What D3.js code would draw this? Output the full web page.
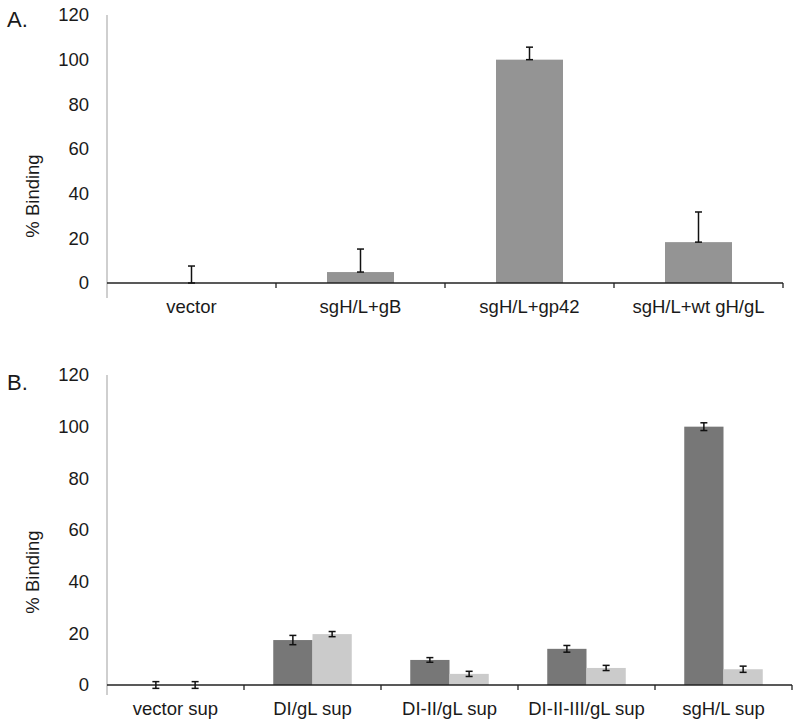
<!DOCTYPE html>
<html><head><meta charset="utf-8">
<script src="https://cdn.jsdelivr.net/npm/d3@7/dist/d3.min.js"></script>
<style>body{margin:0;background:#fff}svg{display:block}text{font-family:"Liberation Sans",Arial,sans-serif;fill:#1a1a1a}</style>
</head><body><svg id="c" width="800" height="728"></svg>
<script>
// Panel A data
const catsA = ["vector", "sgH/L+gB", "sgH/L+gp42", "sgH/L+wt gH/gL"];
const valsA = [0, 4.9, 100, 18.3];
const errA  = [7.6, 10.3, 5.6, 13.5];
// Panel B data
const catsB = ["vector sup", "DI/gL sup", "DI-II/gL sup", "DI-II-III/gL sup", "sgH/L sup"];
const seriesB = ["s1", "s2"];
const valsB1 = [0, 17.4, 9.7, 14.0, 100];
const errB1  = [1.3, 1.8, 0.9, 1.3, 1.5];
const valsB2 = [0, 19.7, 4.3, 6.6, 6.1];
const errB2  = [1.3, 1.0, 1.0, 1.0, 1.2];
const yTicks = [0, 20, 40, 60, 80, 100, 120];

const svg = d3.select("#c");

function panel(opt) {
  const g = svg.append("g");
  const x = d3.scaleBand().domain(opt.cats).range(opt.xr).padding(0);
  const y = d3.scaleLinear().domain([0, 120]).range(opt.yr);
  const inner = d3.scaleBand().domain(opt.series).range([0, x.bandwidth()]).paddingInner(0).paddingOuter(opt.po);

  // y axis line (gray, extends below x axis)
  g.append("line").attr("x1", opt.xr[0]).attr("x2", opt.xr[0])
    .attr("y1", y(120)).attr("y2", y(0) + opt.ext).attr("stroke", "#b5b5b5").attr("stroke-width", 1.3);
  // y tick labels
  g.selectAll(".yt").data(yTicks).join("text")
    .attr("x", opt.xr[0] - 18).attr("y", d => y(d)).attr("dy", "0.35em")
    .attr("text-anchor", "end").attr("font-size", 18.5).text(d => d);

  // bars
  opt.series.forEach((s, si) => {
    const vals = opt.vals[si], errs = opt.errs[si];
    g.selectAll(".b" + si).data(opt.cats).join("rect")
      .attr("x", (c) => x(c) + inner(s)).attr("width", inner.bandwidth())
      .attr("y", (c, i) => y(vals[i])).attr("height", (c, i) => y(0) - y(vals[i]))
      .attr("fill", opt.colors[si]);
  });

  // x axis
  g.append("line").attr("x1", opt.xr[0]).attr("x2", opt.xr[1]).attr("y1", y(0)).attr("y2", y(0))
    .attr("stroke", "#222").attr("stroke-width", 1.3);
  const bounds = opt.cats.map(c => x(c)).concat([opt.xr[1]]);
  g.selectAll(".xt").data(bounds.slice(1)).join("line")
    .attr("x1", d => d).attr("x2", d => d).attr("y1", y(0)).attr("y2", y(0) + 5)
    .attr("stroke", "#222").attr("stroke-width", 1.3);
  g.selectAll(".xl").data(opt.cats).join("text")
    .attr("x", c => x(c) + x.bandwidth() / 2).attr("y", opt.labelY)
    .attr("text-anchor", "middle").attr("font-size", 18.5).text(c => c);

  // error bars
  opt.series.forEach((s, si) => {
    const vals = opt.vals[si], errs = opt.errs[si];
    opt.cats.forEach((c, i) => {
      const cx = x(c) + inner(s) + inner.bandwidth() / 2;
      const lo = opt.sym ? vals[i] - errs[i] : vals[i];
      const hi = vals[i] + errs[i];
      const eg = g.append("g").attr("stroke", "#111").attr("stroke-width", 1.5);
      eg.append("line").attr("x1", cx).attr("x2", cx).attr("y1", y(lo)).attr("y2", y(hi));
      eg.append("line").attr("x1", cx - 3.5).attr("x2", cx + 3.5).attr("y1", y(lo)).attr("y2", y(lo));
      eg.append("line").attr("x1", cx - 3.5).attr("x2", cx + 3.5).attr("y1", y(hi)).attr("y2", y(hi));
    });
  });

  // y title
  g.append("text").attr("transform", `translate(${opt.titleX},${opt.titleY}) rotate(-90)`)
    .attr("text-anchor", "middle").attr("dy", "0.35em").attr("font-size", 18.5).text("% Binding");
  // panel letter
  g.append("text").attr("x", 7).attr("y", opt.letterY).attr("font-size", 22).text(opt.letter);
}

panel({cats: catsA, series: ["a"], vals: [valsA], errs: [errA], colors: ["#949494"],
  xr: [107, 783], yr: [283, 15], po: 0.761, ext: 15, labelY: 313, titleX: 33, titleY: 196,
  letter: "A.", letterY: 27, sym: false});
panel({cats: catsB, series: seriesB, vals: [valsB1, valsB2], errs: [errB1, errB2], colors: ["#777777", "#cbcbcb"],
  xr: [107, 792], yr: [685, 375], po: 0.745, ext: 10, labelY: 715, titleX: 33, titleY: 572,
  letter: "B.", letterY: 390, sym: true});
</script></body></html>
